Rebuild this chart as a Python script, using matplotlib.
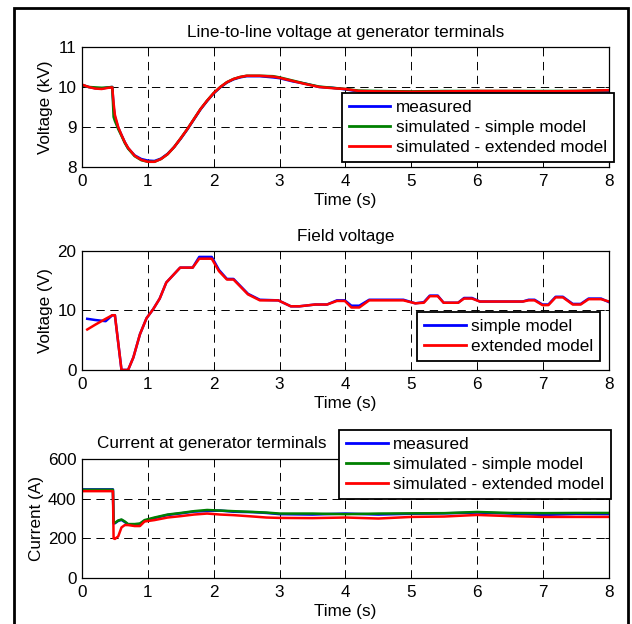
import matplotlib
matplotlib.use('Agg')
import matplotlib.pyplot as plt
from matplotlib.patches import Rectangle

plt.rcParams['font.family'] = ['Liberation Sans', 'DejaVu Sans']
plt.rcParams['lines.scale_dashes'] = False

# --- top panel: line-to-line voltage (kV) ---
t_v = [0, 0.1, 0.2, 0.3, 0.4, 0.46, 0.48, 0.5, 0.55, 0.6, 0.65, 0.7, 0.8, 0.9, 1.0,
       1.1, 1.2, 1.3, 1.4, 1.5, 1.6, 1.7, 1.8, 1.9, 2.0, 2.1, 2.2, 2.3, 2.4, 2.5,
       2.7, 2.9, 3.0, 3.2, 3.4, 3.6, 3.8, 4.0, 4.2, 4.5, 5.0, 5.5, 6.0, 6.5, 7.0, 7.5, 8.0]
v_measured = [10.05, 10.0, 9.97, 9.96, 9.99, 10.0, 9.5, 9.25, 8.98, 8.8, 8.62, 8.47, 8.29, 8.2, 8.16,
              8.15, 8.21, 8.33, 8.5, 8.71, 8.94, 9.19, 9.44, 9.65, 9.84, 9.99, 10.11, 10.19, 10.24, 10.27,
              10.27, 10.24, 10.22, 10.14, 10.08, 10.0, 9.98, 9.94, 9.89, 9.88, 9.87, 9.88, 9.88, 9.89, 9.88, 9.88, 9.89]
v_simple = [10.05, 10.0, 9.99, 9.98, 9.99, 10.0, 9.25, 9.15, 8.95, 8.78, 8.6, 8.46, 8.27, 8.17, 8.13,
            8.13, 8.2, 8.32, 8.5, 8.72, 8.95, 9.2, 9.45, 9.66, 9.85, 10.0, 10.12, 10.2, 10.25, 10.28,
            10.28, 10.27, 10.24, 10.16, 10.08, 10.01, 9.98, 9.95, 9.91, 9.9, 9.89, 9.9, 9.9, 9.9, 9.9, 9.9, 9.92]
v_extended = [10.06, 10.0, 9.96, 9.95, 9.98, 9.99, 9.6, 9.3, 9.0, 8.8, 8.62, 8.48, 8.28, 8.18, 8.13,
              8.13, 8.2, 8.32, 8.5, 8.72, 8.95, 9.2, 9.45, 9.66, 9.85, 10.0, 10.12, 10.2, 10.25, 10.28,
              10.28, 10.26, 10.23, 10.15, 10.07, 10.0, 9.97, 9.95, 9.9, 9.89, 9.88, 9.89, 9.9, 9.9, 9.89, 9.9, 9.92]

# --- middle panel: field voltage (V) ---
t_f = [0.08, 0.2, 0.36, 0.46, 0.5, 0.6, 0.7, 0.78, 0.88, 0.98, 1.08, 1.18, 1.28, 1.49, 1.68,
       1.78, 1.97, 2.08, 2.2, 2.3, 2.52, 2.7, 2.98, 3.17, 3.3, 3.54, 3.72, 3.87, 3.99, 4.09,
       4.21, 4.36, 4.88, 5.06, 5.19, 5.28, 5.4, 5.49, 5.71, 5.8, 5.92, 6.04, 6.69, 6.78, 6.87,
       6.99, 7.08, 7.19, 7.3, 7.45, 7.57, 7.69, 7.88, 8.0]
f_simple = [8.6, 8.4, 8.2, 9.2, 9.2, 0.0, 0.0, 2.1, 6.0, 8.7, 10.2, 12.0, 14.7, 17.2, 17.2,
            19.0, 19.0, 16.8, 15.3, 15.3, 12.8, 11.8, 11.7, 10.7, 10.7, 11.0, 11.0, 11.7, 11.7, 10.8,
            10.8, 11.8, 11.8, 11.2, 11.4, 12.5, 12.5, 11.3, 11.3, 12.1, 12.1, 11.5, 11.5, 11.8, 11.8,
            11.0, 11.0, 12.3, 12.3, 11.1, 11.1, 12.0, 12.0, 11.4]
f_extended = [6.8, 7.6, 8.6, 9.2, 9.2, 0.0, 0.0, 2.1, 6.0, 8.7, 10.2, 12.0, 14.7, 17.2, 17.2,
              18.7, 18.7, 16.6, 15.2, 15.2, 12.7, 11.7, 11.7, 10.7, 10.7, 11.0, 11.0, 11.6, 11.6, 10.5,
              10.5, 11.7, 11.7, 11.2, 11.3, 12.4, 12.4, 11.3, 11.3, 12.0, 12.0, 11.5, 11.5, 11.7, 11.7,
              10.9, 10.9, 12.2, 12.2, 11.0, 11.0, 11.9, 11.9, 11.5]

# --- bottom panel: current (A) ---
t_i = [0, 0.47, 0.48, 0.5, 0.55, 0.6, 0.65, 0.7, 0.8, 0.88, 0.95, 1.1, 1.3, 1.5, 1.7,
       1.9, 2.1, 2.3, 2.6, 2.8, 3.0, 3.5, 4.0, 4.5, 5.0, 5.5, 6.0, 6.5, 7.0, 7.5, 8.0]
i_measured = [447, 447, 275, 276, 288, 293, 282, 270, 268, 272, 288, 302, 318, 326, 335,
              338, 340, 334, 332, 328, 322, 320, 325, 320, 324, 326, 330, 325, 318, 323, 322]
i_simple = [445, 445, 280, 278, 290, 295, 285, 272, 272, 275, 292, 305, 320, 328, 337,
            343, 340, 337, 333, 330, 325, 325, 322, 325, 326, 327, 333, 328, 327, 328, 328]
i_extended = [438, 438, 200, 197, 210, 255, 267, 267, 262, 262, 285, 292, 305, 312, 320,
              325, 320, 317, 310, 305, 303, 302, 305, 300, 308, 310, 318, 312, 308, 308, 308]

FS = 12.3
BLUE, GREEN, RED = '#0000ff', '#008000', '#ff0000'
LW = 1.8

fig = plt.figure(figsize=(6.32, 6.24), dpi=100)
ax1 = fig.add_axes([0.1297, 0.7324, 0.8339, 0.1923])
ax2 = fig.add_axes([0.1297, 0.4071, 0.8339, 0.1907])
ax3 = fig.add_axes([0.1297, 0.0737, 0.8339, 0.1907])


def style(ax, ylim, yticks, ylabel):
    ax.set_xlim(0, 8)
    ax.set_ylim(*ylim)
    ax.set_xticks(range(9))
    ax.set_yticks(yticks)
    ax.grid(True, color='k', linestyle=(0, (6, 4)), linewidth=0.7)
    ax.tick_params(direction='in', length=3, top=True, right=True,
                   labelsize=FS, width=0.7)
    ax.tick_params(axis='x', pad=5)
    ax.tick_params(axis='y', pad=4)
    for s in ax.spines.values():
        s.set_linewidth(0.9)
    ax.set_xlabel('Time (s)', fontsize=FS, labelpad=3)
    ax.set_ylabel(ylabel, fontsize=FS, labelpad=3)


def legend(ax, anchor):
    lg = ax.legend(loc='upper left', bbox_to_anchor=anchor, fontsize=FS,
                   fancybox=False, framealpha=1, edgecolor='k',
                   handlelength=2.45, handletextpad=0.3, labelspacing=0.3,
                   borderpad=0.4, borderaxespad=0)
    lg.get_frame().set_linewidth(1.3)
    for ln in lg.get_lines():
        ln.set_linewidth(2.0)
    lg.set_zorder(10)


ax1.plot(t_v, v_measured, color=BLUE, lw=LW, label='measured')
ax1.plot(t_v, v_simple, color=GREEN, lw=LW, label='simulated - simple model')
ax1.plot(t_v, v_extended, color=RED, lw=LW, label='simulated - extended model')
style(ax1, (8, 11), [8, 9, 10, 11], 'Voltage (kV)')
ax1.set_title('Line-to-line voltage at generator terminals', fontsize=FS, pad=7)
legend(ax1, (0.493, 0.617))

ax2.plot(t_f, f_simple, color=BLUE, lw=LW, label='simple model')
ax2.plot(t_f, f_extended, color=RED, lw=LW, label='extended model')
style(ax2, (0, 20), [0, 10, 20], 'Voltage (V)')
ax2.set_title('Field voltage', fontsize=FS, pad=7)
legend(ax2, (0.636, 0.487))

ax3.plot(t_i, i_measured, color=BLUE, lw=LW, label='measured')
ax3.plot(t_i, i_simple, color=GREEN, lw=LW, label='simulated - simple model')
ax3.plot(t_i, i_extended, color=RED, lw=LW, label='simulated - extended model')
style(ax3, (0, 600), [0, 200, 400, 600], 'Current (A)')
ax3.text(0.247, 1.134, 'Current at generator terminals', transform=ax3.transAxes,
         ha='center', va='center', fontsize=FS)
legend(ax3, (0.488, 1.244))

# outer frame (open at the bottom, cropped in the original)
fig.patches.append(Rectangle((14 / 632, -0.05), 614 / 632, 1.05 - 8 / 624,
                             transform=fig.transFigure, fill=False,
                             edgecolor='k', linewidth=2.0))

fig.savefig('out.png', dpi=100)
